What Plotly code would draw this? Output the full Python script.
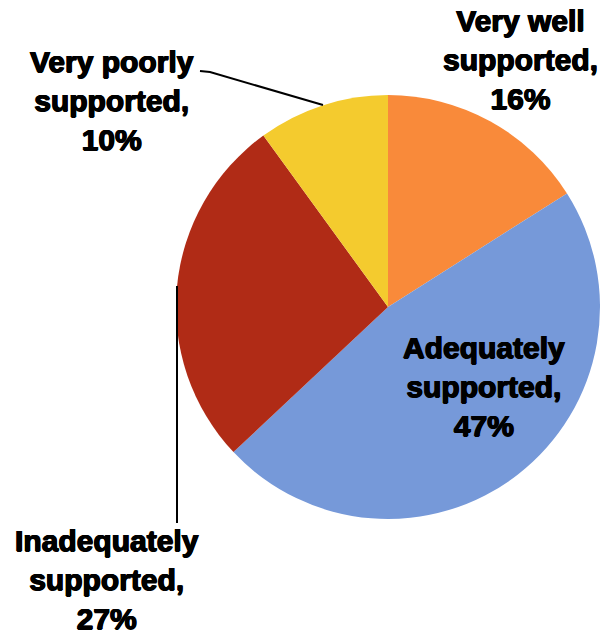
import plotly.graph_objects as go

# Share of respondents by how well they feel supported
categories = ["Very well supported", "Adequately supported",
              "Inadequately supported", "Very poorly supported"]
shares = [16, 47, 27, 10]
colors = ["#F98A3A", "#7699D9", "#B02B16", "#F4CB2E"]

W, H = 601, 634


def px(x):
    return x / W


def py(y):
    return 1 - y / H


fig = go.Figure(go.Pie(
    labels=categories,
    values=shares,
    sort=False,
    direction="clockwise",
    rotation=0,
    marker=dict(colors=colors, line=dict(width=0)),
    textinfo="none",
    hoverinfo="label+percent",
    showlegend=False,
    domain=dict(x=[px(176), px(600)], y=[py(519), py(95)]),
))

# Label text and anchor positions (pixels from the top-left)
label_pos = {
    "Very well supported": (520, 60),
    "Adequately supported": (484, 386),
    "Inadequately supported": (107, 579),
    "Very poorly supported": (112, 100),
}
label_text = {
    "Very well supported": "Very well<br>supported,",
    "Adequately supported": "Adequately<br>supported,",
    "Inadequately supported": "Inadequately<br>supported,",
    "Very poorly supported": "Very poorly<br>supported,",
}

# Heavy black label lettering
heavy = "0.7px 0 0 black, -0.7px 0 0 black, 0 0.5px 0 black, 0 -0.5px 0 black"

for cat, val in zip(categories, shares):
    x, y = label_pos[cat]
    fig.add_annotation(
        x=px(x), y=py(y), xref="paper", yref="paper",
        text=f"{label_text[cat]}<br>{val}%",
        showarrow=False, align="center",
        xanchor="center", yanchor="middle",
        font=dict(family="Liberation Sans", size=30, color="black",
                  weight="bold", shadow=heavy),
    )

# Leader lines for the two outside labels
fig.add_shape(type="path", xref="paper", yref="paper",
              path=f"M {px(200)} {py(71)} L {px(210)} {py(72)} L {px(323)} {py(105)}",
              line=dict(color="black", width=2))
fig.add_shape(type="line", xref="paper", yref="paper",
              x0=px(177), y0=py(286), x1=px(177), y1=py(523),
              line=dict(color="black", width=2))

fig.update_layout(
    width=W, height=H,
    margin=dict(l=0, r=0, t=0, b=0),
    paper_bgcolor="white", plot_bgcolor="white",
)

fig.write_html("out.html")
